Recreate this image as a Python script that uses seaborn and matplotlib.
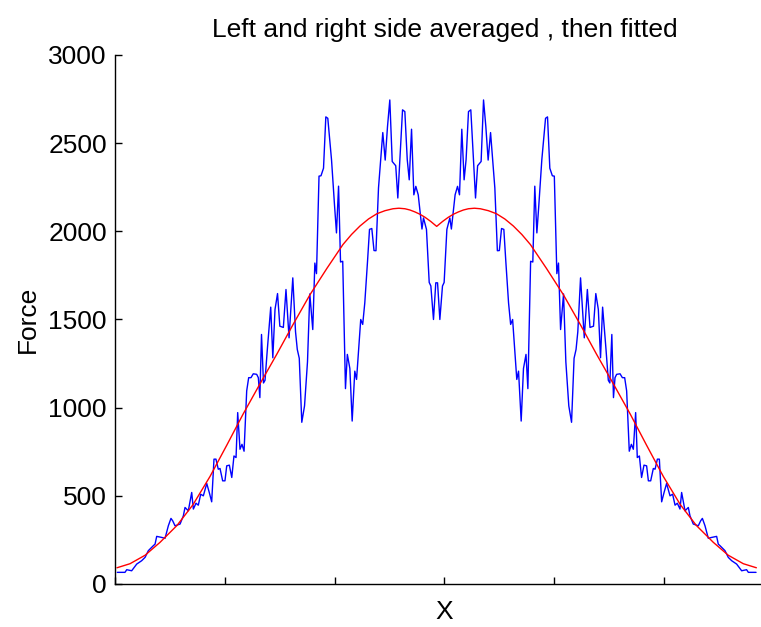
import numpy as np
import pandas as pd
import matplotlib
matplotlib.use("Agg")
import matplotlib.pyplot as plt
import seaborn as sns

# ---------------- data ----------------
title_text = "Left and right side averaged , then fitted"
x_label = "X"
y_label = "Force"
y_ticks = [0, 500, 1000, 1500, 2000, 2500, 3000]
x_ticks = [0, 100, 200, 300, 400, 500, 600]
x_limits = [0, 600]
y_limits = [0, 3000]
mirror_total = 585.8  # right side is the mirror image of the left side

# averaged force, left half (right half is its mirror image)
left_x = [1.9, 8.9, 10.5, 15.0, 19.6, 24.1, 27.2, 30.2, 34.7, 36.3,
          37.8, 42.4, 45.4, 48.4, 50.8, 52.4, 54.5, 59.1, 62.1, 63.6,
          66.6, 69.7, 71.2, 73.6, 75.7, 77.9, 80.3, 83.4, 85.7, 87.9,
          90.0, 91.8, 93.9, 95.5, 97.9, 100.0, 101.6, 104.0, 106.2, 108.2,
          110.1, 111.6, 113.7, 115.5, 117.4, 119.8, 121.6, 123.7, 125.8, 128.9,
          130.4, 131.8, 133.3, 135.1, 136.5, 138.6, 141.7, 143.6, 145.6, 147.9,
          150.0, 153.2, 155.6, 158.4, 161.8, 164.3, 165.9, 167.7, 170.0, 172.5,
          175.2, 177.3, 180.0, 181.9, 183.4, 185.7, 187.5, 189.8, 191.9, 193.7,
          197.1, 199.8, 201.6, 203.5, 205.3, 207.3, 209.8, 211.5, 213.8, 215.9,
          218.3, 219.9, 223.7, 225.5, 227.4, 229.9, 231.7, 233.8, 235.8, 237.6,
          239.9, 241.9, 243.8, 246.0, 248.1, 250.2, 252.4, 255.6, 257.5, 261.8,
          263.9, 266.1, 267.9, 270.0, 272.1, 273.9, 276.1, 279.5, 280.9, 283.6,
          286.1, 287.6, 290.0, 292.1]
left_force = [66, 66, 81, 75, 113, 132, 151, 189, 217, 226,
              270, 264, 259, 330, 372, 358, 330, 340, 387, 434,
              415, 519, 425, 458, 447, 509, 500, 570, 519, 466,
              708, 708, 651, 655, 585, 585, 670, 674, 604, 726,
              717, 972, 764, 792, 753, 1095, 1170, 1170, 1192, 1189,
              1170, 1057, 1415, 1140, 1155, 1330, 1570, 1283, 1557, 1647,
              1462, 1455, 1670, 1396, 1736, 1430, 1330, 1280, 917, 1010,
              1260, 1645, 1443, 1820, 1760, 2313, 2315, 2358, 2649, 2641,
              2405, 2150, 1991, 2256, 1826, 1830, 1108, 1302, 1222, 924,
              1207, 1160, 1500, 1472, 1594, 1830, 2011, 2016, 1891, 1890,
              2246, 2406, 2560, 2404, 2594, 2745, 2396, 2372, 2189, 2689,
              2679, 2406, 2292, 2579, 2207, 2255, 2207, 2013, 2076, 2011,
              1710, 1690, 1500, 1708]

# fitted curve, left half (mirrored for the right half)
fit_left_x = [1.6, 13.5, 27.2, 40.8, 56.3, 70.9, 86.4, 101.9, 116.4, 131.9,
              147.4, 161.9, 177.4, 192.9, 207.5, 215.3, 223.0, 230.8, 238.5,
              245.8, 253.1, 258.5, 264.0, 268.5, 273.1, 277.6, 282.2, 287.5,
              292.9]
fit_left_force = [92, 115, 163, 236, 332, 450, 610, 790, 962, 1135,
                  1305, 1470, 1640, 1790, 1925, 1982, 2030, 2070, 2100,
                  2117, 2128, 2131, 2128, 2121, 2110, 2097, 2080, 2056,
                  2028]

# ---------------- build full (mirrored) series ----------------
blue_x = left_x + [mirror_total - v for v in reversed(left_x)]
blue_y = left_force + list(reversed(left_force))
red_x = fit_left_x + [mirror_total - v for v in reversed(fit_left_x[:-1])]
red_y = fit_left_force + list(reversed(fit_left_force[:-1]))

df_blue = pd.DataFrame({"x": blue_x, "force": blue_y})
df_red = pd.DataFrame({"x": red_x, "force": red_y})

# ---------------- style ----------------
sns.set_style("ticks")
plt.rcParams["font.family"] = ["Liberation Sans", "DejaVu Sans"]
plt.rcParams["text.color"] = "black"
plt.rcParams["axes.labelcolor"] = "black"
plt.rcParams["xtick.color"] = "black"
plt.rcParams["ytick.color"] = "black"

fig = plt.figure(figsize=(7.61, 6.27), dpi=100)
fig.patch.set_facecolor("white")
ax = fig.add_axes([0.1514, 0.0686, 0.8653, 0.8437])

sns.lineplot(data=df_blue, x="x", y="force", color="#0000ff", linewidth=1.0,
             estimator=None, sort=False, ax=ax)
sns.lineplot(data=df_red, x="x", y="force", color="#ff0000", linewidth=1.0,
             estimator=None, sort=False, ax=ax)

ax.set_xlim(x_limits)
ax.set_ylim(y_limits)
ax.set_xticks(x_ticks)
ax.set_yticks(y_ticks)
ax.set_yticklabels([str(t) for t in y_ticks])
ax.tick_params(axis="both", direction="in", length=5, width=1.0,
               labelsize=19, pad=6, colors="black", labelcolor="black")
ax.tick_params(axis="x", labelbottom=False)

for side in ["top", "right"]:
    ax.spines[side].set_visible(False)
for side in ["left", "bottom"]:
    ax.spines[side].set_linewidth(1.0)
    ax.spines[side].set_color("black")

ax.set_title(title_text, fontsize=19, pad=13, color="black")
ax.set_xlabel(x_label, fontsize=19, color="black")
ax.set_ylabel(y_label, fontsize=19, color="black")
ax.xaxis.set_label_coords(0.5, -0.03)
ax.yaxis.set_label_coords(-0.115, 0.5)

fig.savefig("out.png", dpi=100, facecolor="white")
